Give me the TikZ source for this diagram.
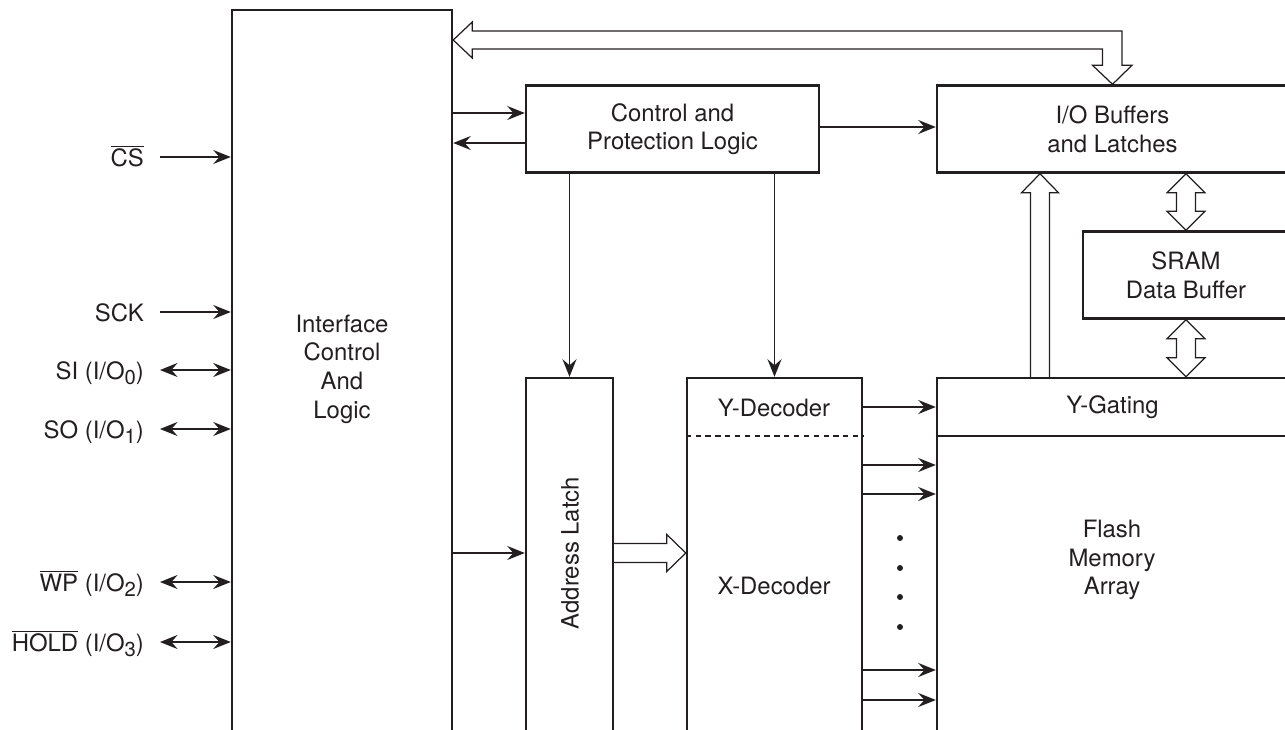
\documentclass[tikz,border=0pt]{standalone}
\usepackage{fontspec}
\setmainfont{TeX Gyre Heros}
\usetikzlibrary{arrows.meta, calc, fit}
\definecolor{ink}{HTML}{231F20}
\newcommand{\pinsub}[1]{\raisebox{-3pt}{\fontsize{11.5}{12}\selectfont #1}}

\begin{document}
\begin{tikzpicture}[
    x=0.02cm, y=-0.02cm,
    font=\fontsize{13.6}{16.3}\selectfont, color=ink,
    block/.style={rectangle, draw=ink, line width=1.4pt, inner sep=0pt, align=center},
    lbl/.style={anchor=east, inner xsep=9pt, text height=11pt, text depth=0pt},
    arrow/.style={-{Stealth[length=10pt, width=8pt, inset=3.5pt]}, line width=0.8pt},
    biarrow/.style={{Stealth[length=10pt, width=8pt, inset=3.5pt]}-{Stealth[length=10pt, width=8pt, inset=3.5pt]}, line width=0.8pt},
    fat/.style={line width=0.7pt, line join=miter},
    divider/.style={dash pattern=on 3pt off 2.6pt, line width=1.1pt}
  ]

    \useasboundingbox (0,0) rectangle (1285,730);
    \clip (0,0) rectangle (1285,730);

    % blocks
    \node[block, fit={(232,10) (452,770)}] (iface) {};
    \node[block, minimum width=5.86cm, minimum height=1.74cm] (ctrl) at (672.5,129) {Control and\\Protection Logic};
    \node[block, minimum width=7.02cm, minimum height=1.74cm] (io) at (1112.5,129) {I/O Buffers\\and Latches};
    \node[block, minimum width=4.12cm, minimum height=1.74cm] (sram) at (1186,275) {SRAM\\Data Buffer};
    \node[block, minimum width=7.02cm, minimum height=1.16cm] (ygate) at (1112.5,407) {Y-Gating};
    \node[block, fit={(937,436) (1288,770)}] (flash) {};
    \node[block, fit={(526,378) (613,770)}] (latch) {};
    \node[block, fit={(687,378) (862,770)}] (dec) {};

    \node[align=center] (iface-t) at (342,369) {Interface\\Control\\And\\Logic};
    \node[rotate=90] (latch-t) at (570,553) {Address Latch};
    \node (ydec) at (774,408) {Y-Decoder};
    \node (xdec) at (774,586) {X-Decoder};
    \node[align=center] (flash-t) at (1112,560) {Flash\\Memory\\Array};

    % pins
    \node[lbl] (cs) at (160,157) {$\overline{\mbox{CS}}$};
    \node[lbl] (sck) at (160,312) {SCK};
    \node[lbl] (si) at (160,370) {SI (I/O\pinsub{0})};
    \node[lbl] (so) at (160,429) {SO (I/O\pinsub{1})};
    \node[lbl] (wp) at (160,582) {$\overline{\mbox{WP}}$ (I/O\pinsub{2})};
    \node[lbl] (hold) at (160,642) {$\overline{\mbox{HOLD}}$ (I/O\pinsub{3})};

    \draw[arrow] (cs) -- (iface.west |- cs);
    \draw[arrow] (sck) -- (iface.west |- sck);
    \draw[biarrow] (si) -- (iface.west |- si);
    \draw[biarrow] (so) -- (iface.west |- so);
    \draw[biarrow] (wp) -- (iface.west |- wp);
    \draw[biarrow] (hold) -- (iface.west |- hold);

    % control paths
    \draw[arrow] (iface.east |- 0,113) -- (ctrl.west |- 0,113);
    \draw[arrow] (ctrl.west |- 0,143) -- (iface.east |- 0,143);
    \draw[arrow] (ctrl.east |- 0,127) -- (io.west |- 0,127);
    \draw[arrow] (latch.north |- ctrl.south) -- (latch.north);
    \draw[arrow] (dec.north |- ctrl.south) -- (dec.north);
    \draw[arrow] (iface.east |- 0,553) -- (latch.west |- 0,553);

    % decoder outputs
    \draw[divider] (dec.west |- 0,436) -- (dec.east |- 0,436);
    \draw[arrow] (dec.east |- ygate) -- (ygate.west);
    \foreach \y in {465,494,670,700}
      \draw[arrow] (dec.east |- 0,\y) -- (flash.west |- 0,\y);
    \foreach \y in {538,568,597,627}
      \fill (900,\y) circle (1.7pt);

    % data bus
    \coordinate (busL) at (iface.east |- 0,40);
    \coordinate (busR) at (io.north);
    \draw[fat] (busL) -- ++(19,-18) -- ++(0,9) -| ($(busR)+(9.5,-19)$) -- ++(10,0) -- (busR)
      -- ++(-20,-19) -- ++(10,0) |- ($(busL)+(19,9)$) -- ++(0,9) -- cycle;

    \coordinate (upB) at (ygate.north -| 1040,0);
    \coordinate (upT) at (io.south -| 1040,0);
    \draw[fat] ($(upB)+(-9.5,0)$) -- ($(upT)+(-9.5,19)$) -- ++(-9,0) -- (upT) -- ++(18.5,19)
      -- ++(-9,0) -- ($(upB)+(9.5,0)$);

    \coordinate (t1) at (io.south -| sram.north);
    \draw[fat] (t1) -- ++(19,19) -- ++(-9.5,0) -- ($(sram.north)+(9.5,-19)$) -- ++(9.5,0) -- (sram.north)
      -- ++(-19,-19) -- ++(9.5,0) -- ($(t1)+(-9.5,19)$) -- ++(-9.5,0) -- cycle;

    \coordinate (b2) at (ygate.north -| sram.south);
    \draw[fat] (sram.south) -- ++(19,19) -- ++(-9.5,0) -- ($(b2)+(9.5,-19)$) -- ++(9.5,0) -- (b2)
      -- ++(-19,-19) -- ++(9.5,0) -- ($(sram.south)+(-9.5,19)$) -- ++(-9.5,0) -- cycle;

    \coordinate (rt) at (dec.west |- 0,553);
    \coordinate (lt) at (latch.east |- 0,553);
    \draw[fat] ($(lt)+(0,-9.5)$) -- ($(rt)+(-19,-9.5)$) -- ++(0,-9) -- (rt) -- ++(-19,18.5)
      -- ++(0,-9) -- ($(lt)+(0,9.5)$);

  \end{tikzpicture}
\end{document}
